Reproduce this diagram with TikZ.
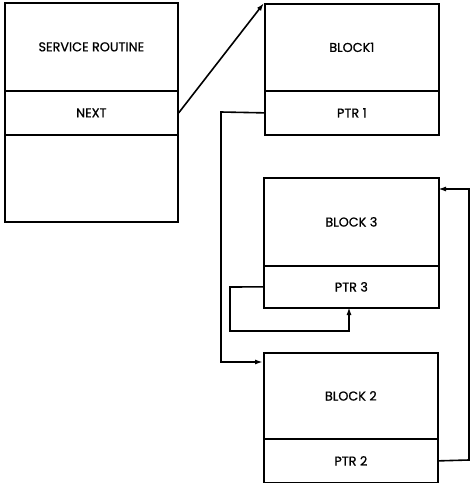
\documentclass[tikz,border=0pt]{standalone}
\usepackage{fontspec}
\newfontfamily\lblfont{Poppins}[FakeBold=0.8]
\usetikzlibrary{arrows.meta}
\begin{document}
\begin{tikzpicture}[x=1pt,y=-1pt,
  cell/.style={draw, line width=1.7pt, inner sep=0pt, anchor=north west, font=\lblfont\fontsize{12.8}{14}\selectfont},
  arr/.style={line width=1.6pt, -{Latex[length=8pt,width=5pt]}}]
\useasboundingbox (0,0) rectangle (470,483);
% service routine
\node[cell, minimum width=173pt, minimum height=88pt] (sr) at (4,2) {SERVICE ROUTINE};
\node[cell, minimum width=173pt, minimum height=44pt] (next) at (4,90) {NEXT};
\node[cell, minimum width=173pt, minimum height=87pt] (blank) at (4,134) {};
% block 1
\node[cell, minimum width=174pt, minimum height=87pt] (b1) at (264,3) {BLOCK1};
\node[cell, minimum width=174pt, minimum height=44pt] (p1) at (264,90) {PTR 1};
% block 3
\node[cell, minimum width=175pt, minimum height=88pt] (b3) at (263,177) {BLOCK 3};
\node[cell, minimum width=175pt, minimum height=42pt] (p3) at (263,265) {PTR 3};
% block 2
\node[cell, minimum width=174pt, minimum height=86pt] (b2) at (263,352) {BLOCK 2};
\node[cell, minimum width=174pt, minimum height=44pt] (p2) at (263,438) {PTR 2};
% connectors
\coordinate (c1) at (263,362);
\coordinate (c2) at (438,189);
\coordinate (c3) at (349,307);
\draw[arr] (next.east) -- (b1.north west);
\draw[arr] (p1.west) -- (221,112) -- (221,362) -- (c1);
\draw[arr] (p3.west) -- (230,287) -- (230,331) -- (349,331) -- (c3);
\draw[arr] (p2.east) -- (469,460) -- (469,189) -- (c2);
\end{tikzpicture}
\end{document}
